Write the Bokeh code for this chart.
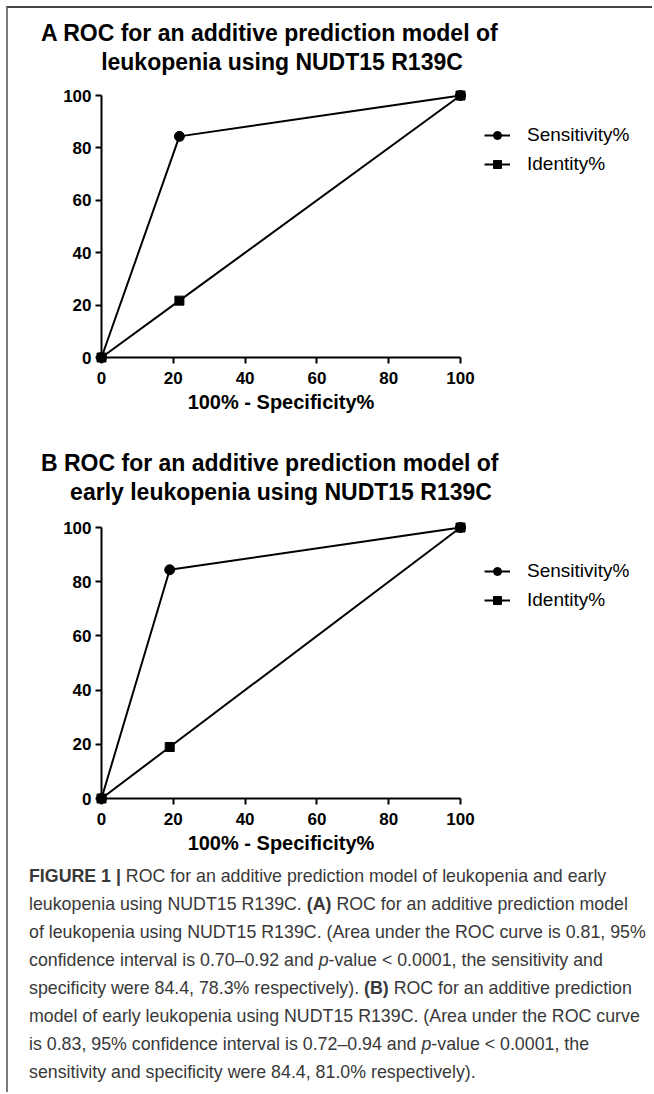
from bokeh.plotting import figure
from bokeh.models import Range1d, Legend, LegendItem, Div
from bokeh.layouts import column
from bokeh.embed import file_html
from bokeh.resources import INLINE

# ---------------- data ----------------
fpr_a = [0, 21.7, 100]
sens_a = [0, 84.4, 100]
ident_a = [0, 21.7, 100]

fpr_b = [0, 19.0, 100]
sens_b = [0, 84.4, 100]
ident_b = [0, 19.0, 100]

tick_values = [0, 20, 40, 60, 80, 100]
series_names = ["Sensitivity%", "Identity%"]
x_label = "100% - Specificity%"
titles_a = ["A ROC for an additive prediction model of", "leukopenia using NUDT15 R139C"]
titles_b = ["B ROC for an additive prediction model of", "early leukopenia using NUDT15 R139C"]

caption_lines = [
    "<b>FIGURE 1 |</b> ROC for an additive prediction model of leukopenia and early",
    "leukopenia using NUDT15 R139C. <b>(A)</b> ROC for an additive prediction model",
    "of leukopenia using NUDT15 R139C. (Area under the ROC curve is 0.81, 95%",
    "confidence interval is 0.70&ndash;0.92 and <i>p</i>-value &lt; 0.0001, the sensitivity and",
    "specificity were 84.4, 78.3% respectively). <b>(B)</b> ROC for an additive prediction",
    "model of early leukopenia using NUDT15 R139C. (Area under the ROC curve",
    "is 0.83, 95% confidence interval is 0.72&ndash;0.94 and <i>p</i>-value &lt; 0.0001, the",
    "sensitivity and specificity were 84.4, 81.0% respectively).",
]

FONT = "Liberation Sans"
CANVAS_W = 636
FRAME_L = 46               # frame left edge (canvas px)
X0_PX, X100_PX = 93, 452   # canvas px where x = 0 and x = 100 fall


def title_div(lines, margin_top, center_w):
    html = (
        '<div style="font-family:\'Liberation Sans\';font-weight:bold;font-size:23px;'
        'line-height:29px;color:#000;white-space:nowrap;padding-top:11px;">'
        f'<div style="padding-left:33px;">{lines[0]}</div>'
        f'<div style="width:{center_w}px;text-align:center;">{lines[1]}</div>'
        '</div>'
    )
    return Div(text=html, width=CANVAS_W, height=68,
               styles={"margin": f"{margin_top}px 0px 0px 0px"})


def make_panel(fpr, sens, ident, y100_px, y0_px, frame_h, legend_y):
    xs = 100.0 / (X100_PX - X0_PX)
    ys = 100.0 / (y0_px - y100_px)
    x_rng = Range1d(-(X0_PX - FRAME_L) * xs, 100 + (CANVAS_W - X100_PX) * xs)
    y_rng = Range1d(-(frame_h - y0_px) * ys, 100 + y100_px * ys)
    p = figure(
        frame_width=CANVAS_W - FRAME_L, frame_height=frame_h,
        min_border_left=FRAME_L, min_border_right=0,
        min_border_top=0, min_border_bottom=70,
        x_range=x_rng, y_range=y_rng,
        output_backend="svg", toolbar_location=None,
    )
    p.title.visible = False
    p.outline_line_color = None
    p.xgrid.visible = False
    p.ygrid.visible = False
    p.background_fill_alpha = 0
    p.border_fill_alpha = 0

    for ax in (p.xaxis, p.yaxis):
        ax.fixed_location = 0
        ax.bounds = (0, 100)
        ax.ticker = tick_values
        ax.minor_tick_line_color = None
        ax.major_tick_in = 0
        ax.major_tick_out = 6
        ax.axis_line_width = 2
        ax.major_tick_line_width = 2
        ax.axis_line_color = "black"
        ax.major_tick_line_color = "black"
        ax.major_label_text_font = FONT
        ax.major_label_text_font_style = "bold"
        ax.major_label_text_font_size = "17px"
        ax.major_label_text_color = "black"
    p.xaxis.major_label_standoff = 8
    p.yaxis.major_label_standoff = 4
    p.xaxis.axis_label = x_label
    p.xaxis.axis_label_text_font = FONT
    p.xaxis.axis_label_text_font_style = "bold"
    p.xaxis.axis_label_text_font_size = "20px"
    p.xaxis.axis_label_text_color = "black"
    p.xaxis.axis_label_standoff = 4

    l1 = p.line(fpr, sens, line_width=2, color="black")
    s1 = p.scatter(fpr, sens, marker="circle", size=10, color="black")
    l2 = p.line(fpr, ident, line_width=2, color="black")
    s2 = p.scatter(fpr, ident, marker="square", size=9, color="black")

    legend = Legend(
        items=[LegendItem(label=series_names[0], renderers=[l1, s1]),
               LegendItem(label=series_names[1], renderers=[l2, s2])],
        location=(430, legend_y),
        padding=0, spacing=7, margin=0,
        glyph_width=26, glyph_height=20, label_height=20, label_standoff=17,
        label_text_font=FONT, label_text_font_size="19px", label_text_color="black",
        background_fill_alpha=0, border_line_color=None,
    )
    p.add_layout(legend, "center")
    return p


div_a = title_div(titles_a, 0, 548)
pa = make_panel(fpr_a, sens_a, ident_a, 19, 281, 340, 241)
div_b = title_div(titles_b, -48, 546)
pb = make_panel(fpr_b, sens_b, ident_b, 21, 292, 352, 247)

caption_html = (
    '<div style="font-family:\'Liberation Sans\';font-size:17.8px;line-height:28px;'
    'color:#383838;white-space:nowrap;padding-left:21px;">'
    + "<br>".join(caption_lines) + "</div>"
)
caption = Div(text=caption_html, width=644, height=230,
              styles={"margin": "-66px 0px 0px 0px", "overflow": "visible"})

layout = column(div_a, pa, div_b, pb, caption,
                styles={"margin": "6px 0px 0px 6px",
                        "border-top": "2px solid #444444",
                        "border-left": "2px solid #7a7a7a"})

open("out.html", "w").write(file_html(layout, INLINE))
